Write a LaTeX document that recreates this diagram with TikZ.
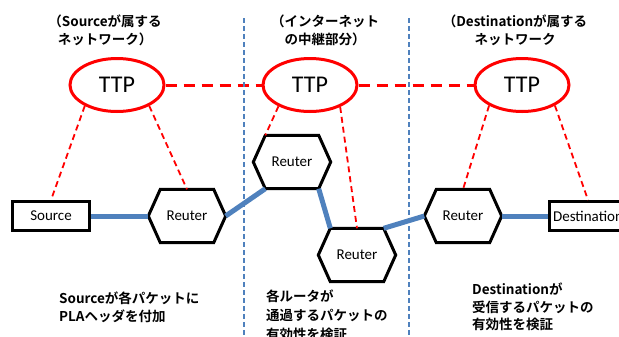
\documentclass[tikz,border=0pt]{standalone}
\usepackage{fontspec}
\setmainfont{Carlito}
\newfontfamily\jpfont{Noto Sans CJK JP}[BoldFont={* Bold}]
\usetikzlibrary{shapes.geometric,calc}

\definecolor{linkblue}{HTML}{4F81BD}
\definecolor{ttpred}{HTML}{FF0000}

\tikzset{
  ttpnode/.style={ellipse, draw=ttpred, line width=3bp, minimum width=94bp,
                  minimum height=53bp, inner sep=0pt, font=\fontsize{24bp}{28bp}\selectfont},
  hostbox/.style={rectangle, draw=black, line width=3bp, minimum width=77bp,
                  minimum height=29bp, inner sep=0pt, font=\fontsize{15bp}{18bp}\selectfont},
  routerbody/.style={rectangle, minimum width=77bp, minimum height=53bp,
                  inner sep=0pt, font=\fontsize{15bp}{18bp}\selectfont},
  hexline/.style={draw=black, line width=3bp, line join=miter},
  link/.style={draw=linkblue, line width=5bp},
  divider/.style={draw=linkblue, line width=2.5bp, dash pattern=on 5bp off 3bp},
  trustlink/.style={draw=ttpred, line width=3bp, dash pattern=on 11bp off 7bp},
  ttplink/.style={draw=ttpred, line width=1.8bp, dash pattern=on 6bp off 4bp},
  caption/.style={font=\jpfont\bfseries\fontsize{13.5bp}{17.5bp}\selectfont, inner sep=0pt},
  widecaption/.style={caption, font=\jpfont\bfseries\fontsize{13.5bp}{18.7bp}\selectfont},
}

% router: hexagon with pointed left/right ends, plus corner coordinates
\newcommand{\routerhex}[3]{%
  \node[routerbody] (#1) at (#2,#3) {Reuter};
  \coordinate (#1-nw) at ($(#1.north west)+(12,0)$);
  \coordinate (#1-ne) at ($(#1.north east)+(-12,0)$);
  \coordinate (#1-sw) at ($(#1.south west)+(12,0)$);
  \coordinate (#1-se) at ($(#1.south east)+(-12,0)$);
  \draw[hexline] (#1.west) -- (#1-nw) -- (#1-ne) -- (#1.east) -- (#1-se) -- (#1-sw) -- cycle;
}

\begin{document}
\begin{tikzpicture}[x=1bp, y=-1bp]
\useasboundingbox (0,0) rectangle (619,336);
\clip (0,0) rectangle (619,336);

% section headings
\node[caption, align=center, anchor=north] (headL) at (105,15) {（Sourceが属する\\ネットワーク）};
\node[caption, align=center, anchor=north] (headM) at (325,15) {（インターネット\\の中継部分）};
\node[caption, align=center, anchor=north] (headR) at (515,15) {（Destinationが属する\\ネットワーク};

% trusted third parties
\node[ttpnode] (ttpL) at (117,85) {TTP};
\node[ttpnode] (ttpM) at (310,85) {TTP};
\node[ttpnode] (ttpR) at (522,85) {TTP};

\draw[trustlink] (ttpL.east) -- (ttpM.west);
\draw[trustlink] (ttpM.east) -- (ttpR.west);

% end hosts and routers
\node[hostbox] (src) at (51,216) {Source};
\node[hostbox] (dst) at (588,216) {Destination};
\routerhex{rA}{187}{216}
\routerhex{rB}{292}{162}
\routerhex{rC}{357}{255}
\routerhex{rD}{463}{216}

% data path
\draw[link] (src.east) -- (rA.west);
\draw[link] (rA.east) -- (rB-sw);
\draw[link] (rB-se) -- (rC-nw);
\draw[link] (rC-ne) -- (rD.west);
\draw[link] (rD.east) -- (dst.west);

% TTP associations
\draw[ttplink] (ttpL.213) -- (src.north);
\draw[ttplink] (ttpL.327) -- (rA.north);
\draw[ttplink] (ttpM.214) -- (rB-nw);
\draw[ttplink] (ttpM.324) -- (rC.north);
\draw[ttplink] (ttpR.212) -- (rD.north);
\draw[ttplink] (ttpR.328) -- (dst.north);

% network boundaries
\coordinate (divLtop) at (244,18);
\coordinate (divLbot) at (244,336);
\coordinate (divRtop) at (409,18);
\coordinate (divRbot) at (409,336);
\draw[divider] (divLtop) -- (divLbot);
\draw[divider] (divRtop) -- (divRbot);

% role descriptions
\node[caption, align=left, anchor=north west] (noteL) at (59,292) {Sourceが各パケットに\\PLAヘッダを付加};
\node[widecaption, align=left, anchor=north west] (noteM) at (266,290) {各ルータが\\通過するパケットの\\有効性を検証};
\node[caption, align=left, anchor=north west] (noteR) at (472,283) {Destinationが\\受信するパケットの\\有効性を検証};
\end{tikzpicture}
\end{document}
